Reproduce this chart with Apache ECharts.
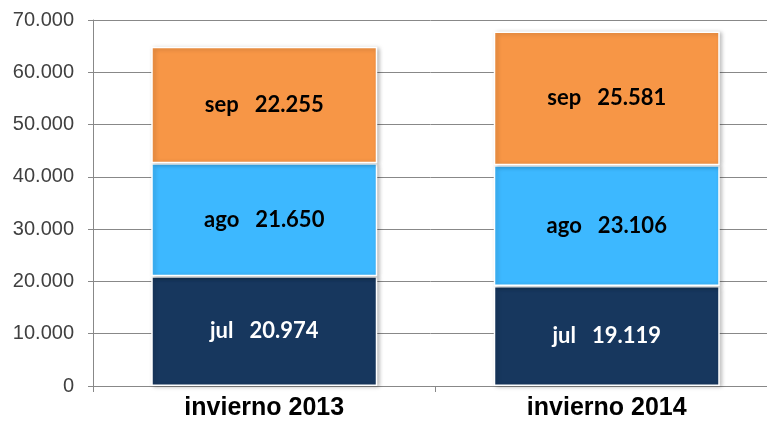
<!DOCTYPE html>
<html>
<head>
<meta charset="utf-8">
<script src="https://cdn.jsdelivr.net/npm/echarts@6/dist/echarts.min.js"></script>
<style>
  html, body { margin: 0; padding: 0; background: #fff; }
  #chart { width: 767px; height: 421px; }
</style>
</head>
<body>
<div id="chart"></div>
<script>
// datos
var categorias = ['invierno 2013', 'invierno 2014'];
var julio = [20974, 19119];
var agosto = [21650, 23106];
var septiembre = [22255, 25581];
var yTicks = [0, 10000, 20000, 30000, 40000, 50000, 60000, 70000];

function miles(v) {
    return String(v).replace(/\B(?=(\d{3})+(?!\d))/g, '.');
}

var chart = echarts.init(document.getElementById('chart'));

function serie(nombre, datos, color, colorTexto) {
    return {
        name: nombre,
        type: 'bar',
        stack: 'total',
        barWidth: 226,
        data: datos,
        itemStyle: {
            color: color,
            borderColor: '#fff',
            borderWidth: 1.5,
            shadowColor: 'rgba(0,0,0,0.25)',
            shadowBlur: 4,
            shadowOffsetX: 2,
            shadowOffsetY: 1
        },
        label: {
            show: true,
            position: 'inside',
            color: colorTexto,
            fontFamily: 'Lato',
            fontWeight: 'bold',
            fontSize: 22,
            formatter: function (p) {
                return p.seriesName + '   ' + miles(p.value);
            }
        }
    };
}

var option = {
    animation: false,
    grid: {
        left: 93, width: 685, top: 20, height: 366,
        containLabel: false,
        outerBoundsMode: 'none'
    },
    xAxis: {
        type: 'category',
        data: categorias,
        axisLine: { show: true, lineStyle: { color: '#888', width: 1 } },
        axisTick: { show: true, length: 6, lineStyle: { color: '#888' } },
        axisLabel: {
            color: '#000',
            fontFamily: 'Liberation Sans',
            fontWeight: 'bold',
            fontSize: 25,
            margin: 10
        }
    },
    yAxis: {
        type: 'value',
        min: yTicks[0],
        max: yTicks[yTicks.length - 1],
        interval: 10000,
        axisLine: { show: true, lineStyle: { color: '#888', width: 1 } },
        axisTick: { show: true, length: 5, lineStyle: { color: '#888' } },
        splitLine: { show: true, lineStyle: { color: '#888', width: 1 } },
        axisLabel: {
            color: '#404040',
            fontFamily: 'Liberation Sans',
            fontSize: 20,
            margin: 19,
            formatter: function (v) { return miles(v); }
        }
    },
    series: [
        serie('jul', julio, '#17375E', '#fff'),
        serie('ago', agosto, '#3DB8FF', '#000'),
        serie('sep', septiembre, '#F79646', '#000')
    ]
};

chart.setOption(option);
</script>
</body>
</html>
